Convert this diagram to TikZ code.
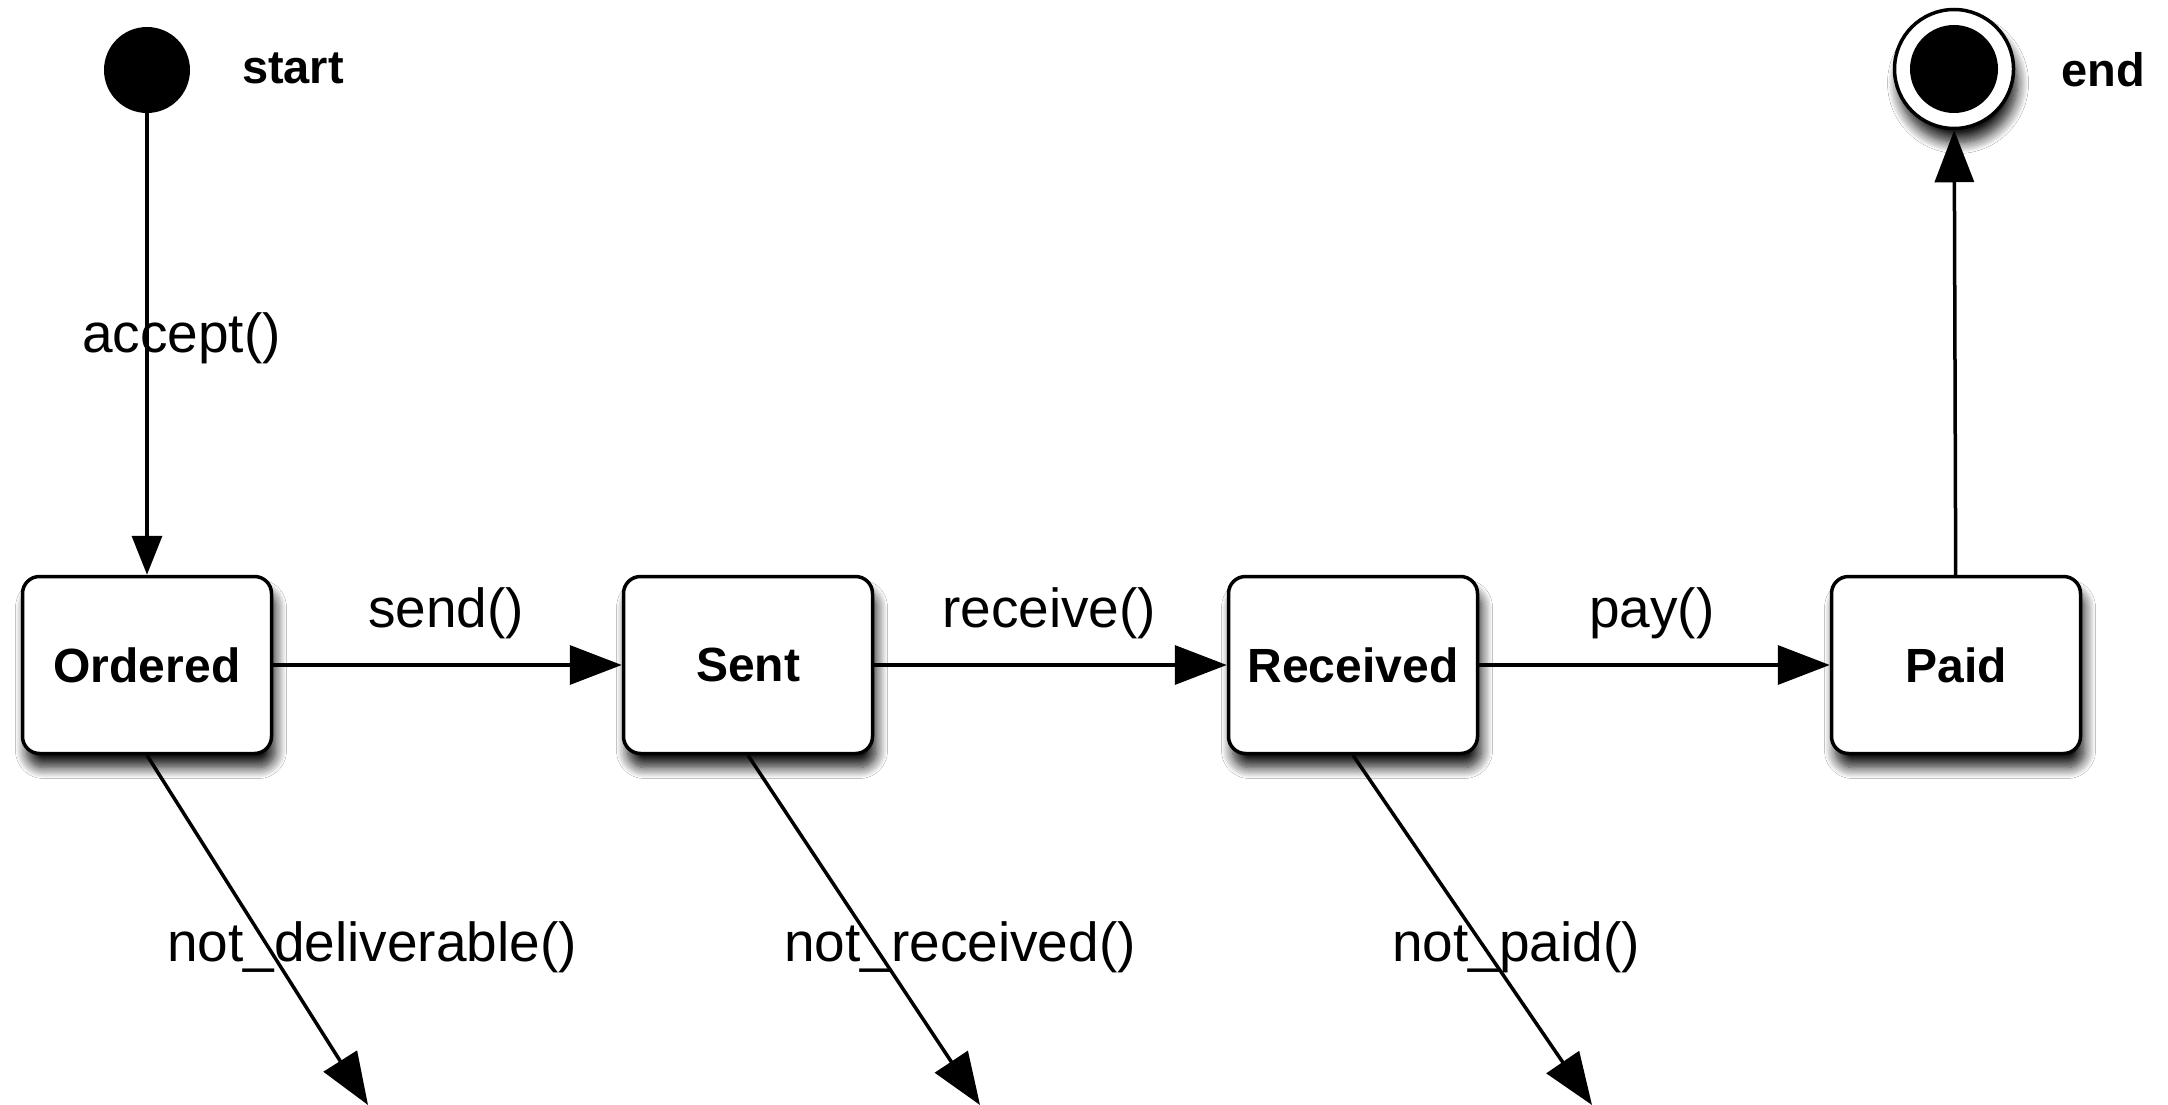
\documentclass[tikz,border=0pt]{standalone}
\usepackage{fontspec}
\setmainfont{Liberation Sans}
\usetikzlibrary{arrows.meta,shadows.blur}
\begin{document}
\begin{tikzpicture}[x=1pt,y=-1pt,
  shad/.style={blur shadow={shadow xshift=4pt, shadow yshift=-14pt, shadow blur radius=11pt, shadow blur steps=12, shadow opacity=90}},
  state/.style={draw, line width=3.5pt, fill=white, rounded corners=17pt,
    minimum width=249pt, minimum height=177pt, inner sep=0pt,
    font=\fontsize{48}{58}\selectfont\bfseries, shad},
  lbl/.style={inner sep=0pt, anchor=base west, font=\fontsize{55}{66}\selectfont},
  tlbl/.style={inner sep=0pt, font=\fontsize{47}{56}\selectfont\bfseries},
  trans/.style={line width=3.5pt, -{Triangle[length=52pt,width=39pt]}},
  smalltrans/.style={line width=3.5pt, -{Triangle[length=39pt,width=30pt]}},
]
\fill[white] (0,0) rectangle (2168,1105);
\useasboundingbox (0,0) rectangle (2168,1105);

% initial and final
\node[circle, fill=black, minimum size=86pt, inner sep=0pt] (start) at (147,70) {};
\node[tlbl] (startlbl) at (293,68) {start};
\node[circle, draw, line width=3.5pt, fill=white, minimum size=119pt, inner sep=0pt, shad] (end) at (1954,69) {};
\node[circle, fill=black, minimum size=88pt, inner sep=0pt] (endin) at (end.center) {};
\node[tlbl] (endlbl) at (2103,70) {end};

% states
\node[state] (ordered) at (147,665) {Ordered};
\node[state] (sent) at (748,665) {Sent};
\node[state] (received) at (1353,665) {Received};
\node[state] (paid) at (1956,665) {Paid};

% free ends
\coordinate (e1) at (368,1105);
\coordinate (e2) at (980,1105);
\coordinate (e3) at (1592,1105);

% transitions
\draw[smalltrans] (start) -- (ordered);
\draw[trans] (ordered) -- (sent);
\draw[trans] (sent) -- (received);
\draw[trans] (received) -- (paid);
\draw[trans] (paid) -- (end);
\draw[trans] (ordered.south) -- (e1);
\draw[trans] (sent.south) -- (e2);
\draw[trans] (received.south) -- (e3);

% labels
\node[lbl] (l1) at (82,352) {accept()};
\node[lbl] (l2) at (368,627) {send()};
\node[lbl] (l3) at (942,627) {receive()};
\node[lbl] (l4) at (1589,627) {pay()};
\node[lbl] (l5) at (167,961) {not\_deliverable()};
\node[lbl] (l6) at (784,961) {not\_received()};
\node[lbl] (l7) at (1392,961) {not\_paid()};
\end{tikzpicture}
\end{document}
